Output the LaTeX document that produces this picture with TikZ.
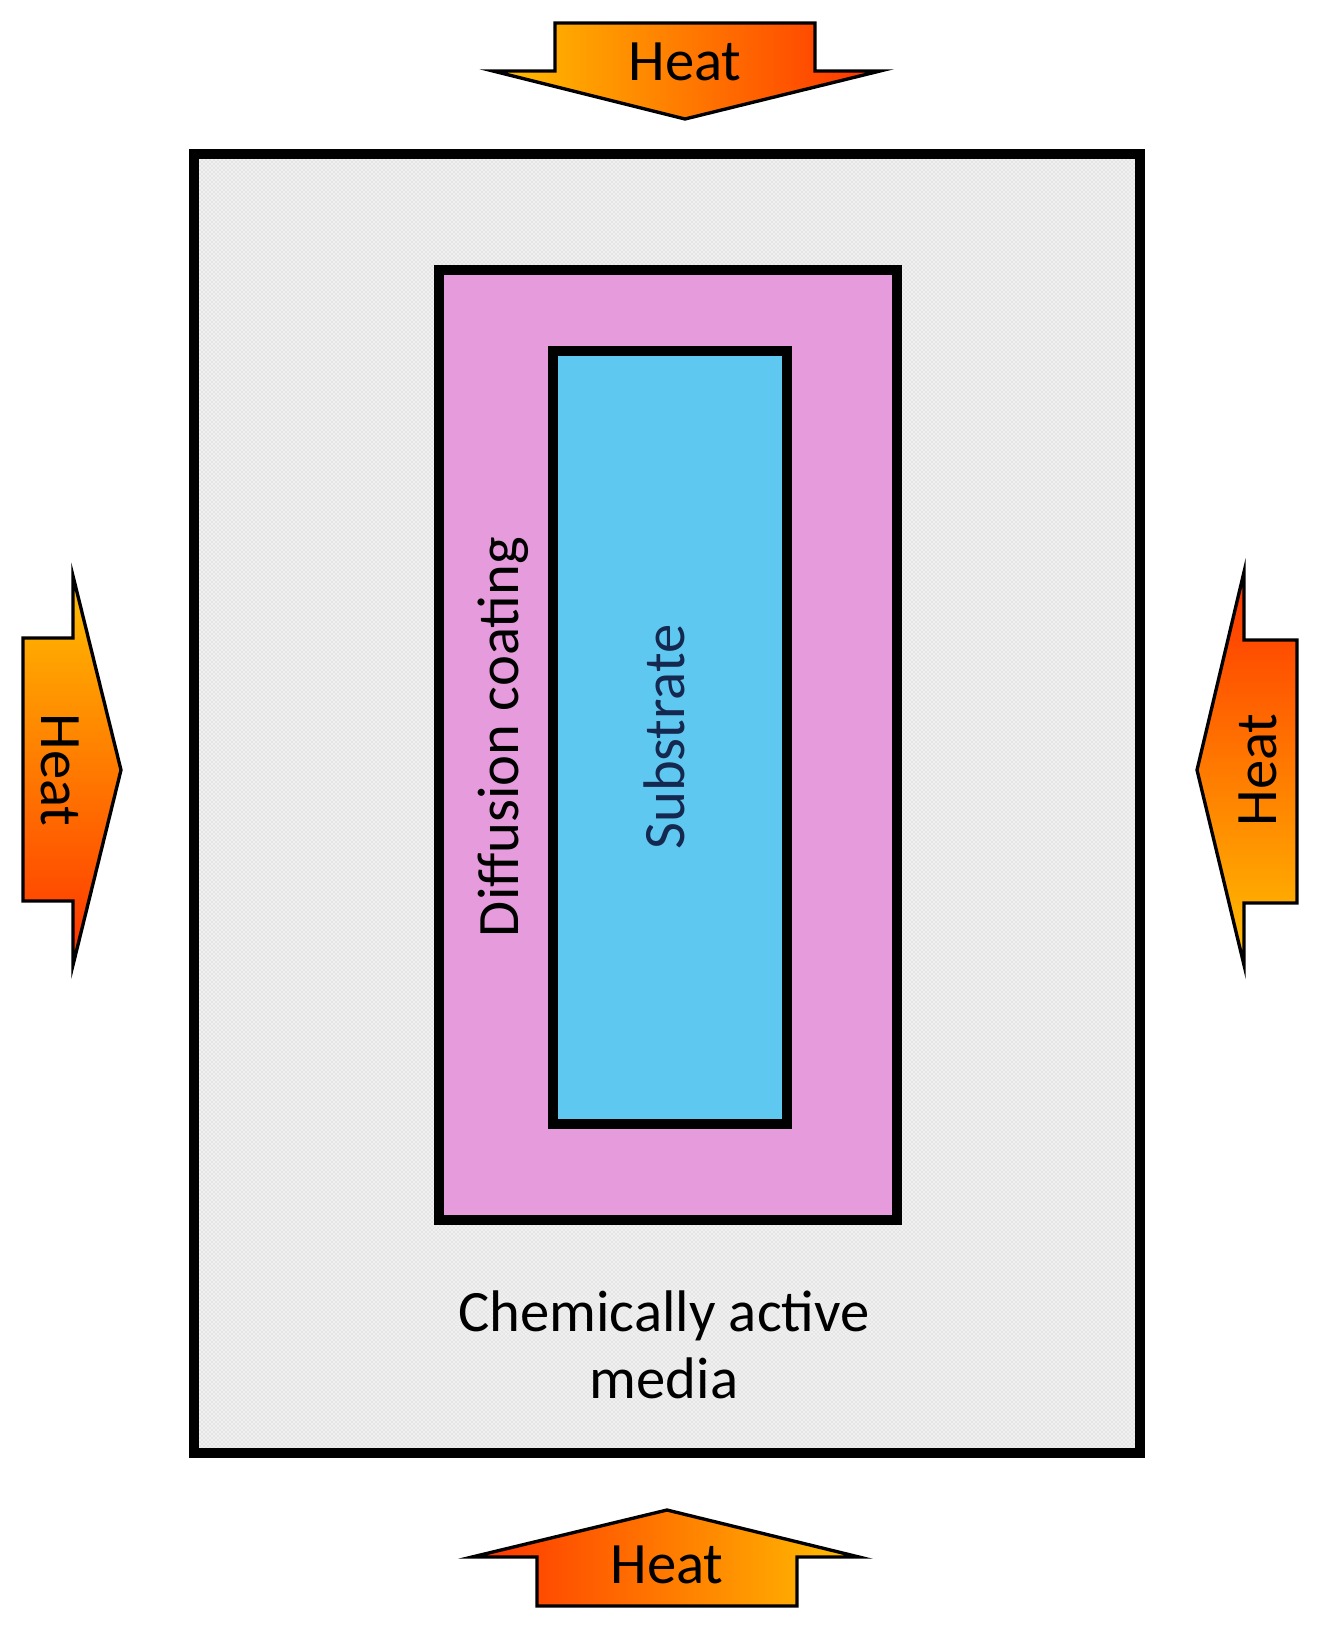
\documentclass[tikz,border=0pt]{standalone}
\usepackage{fontspec}
\setmainfont{Carlito}
\usetikzlibrary{patterns}
\definecolor{heatyellow}{RGB}{255,192,0}
\definecolor{heatred}{RGB}{255,51,0}
\definecolor{coatpink}{RGB}{230,155,220}
\definecolor{subblue}{RGB}{95,200,240}
\definecolor{subtext}{RGB}{20,40,80}
\tikzset{every picture/.style={line width=0.75pt}}
\tikzset{
  heatarrow/.style={draw=black, line width=2.5pt, line join=miter},
  heatlabel/.style={font=\fontsize{44}{50}\selectfont, inner sep=0pt},
  layer/.style={draw=black, line width=7pt},
}
\begin{document}
\begin{tikzpicture}[x=0.75pt,y=0.75pt,yscale=-1,xscale=1]
\useasboundingbox (0,0) rectangle (1319,1638);

% chemically active media
\fill [gray!12] (194,154) rectangle (1140,1453);
\fill [pattern=crosshatch dots, pattern color=gray!45] (194,154) rectangle (1140,1453);
\draw [layer] (194,154) rectangle (1140,1453);
% diffusion coating
\draw [layer, fill=coatpink] (439,270) rectangle (897,1220);
% substrate
\draw [layer, fill=subblue] (553,351) rectangle (787,1124);

\node [heatlabel, rotate=90] (coating) at (503,737) {Diffusion coating};
\node [heatlabel, rotate=90, text=subtext] (substrate) at (664,737) {Substrate};
\node [heatlabel, align=center] (media) at (664,1345) {Chemically active\\media};

% heat arrows
\draw [heatarrow, left color=heatyellow, right color=heatred]
  (555,23) -- (815,23) -- (815,71) -- (880,71) -- (685,119) -- (493,71) -- (555,71) -- cycle;
\node [heatlabel] (heattop) at (685,62) {Heat};

\draw [heatarrow, left color=heatred, right color=heatyellow]
  (537,1606) -- (797,1606) -- (797,1557) -- (859,1557) -- (667,1510) -- (472,1557) -- (537,1557) -- cycle;
\node [heatlabel] (heatbottom) at (667,1565) {Heat};

\draw [heatarrow, top color=heatyellow, bottom color=heatred]
  (23,638) -- (73,638) -- (73,576) -- (121,770) -- (73,965) -- (73,901) -- (23,901) -- cycle;
\node [heatlabel, rotate=-90] (heatleft) at (60,770) {Heat};

\draw [heatarrow, top color=heatred, bottom color=heatyellow]
  (1297,640) -- (1244,640) -- (1244,572) -- (1197,770) -- (1244,965) -- (1244,903) -- (1297,903) -- cycle;
\node [heatlabel, rotate=90] (heatright) at (1258,770) {Heat};
\end{tikzpicture}
\end{document}
